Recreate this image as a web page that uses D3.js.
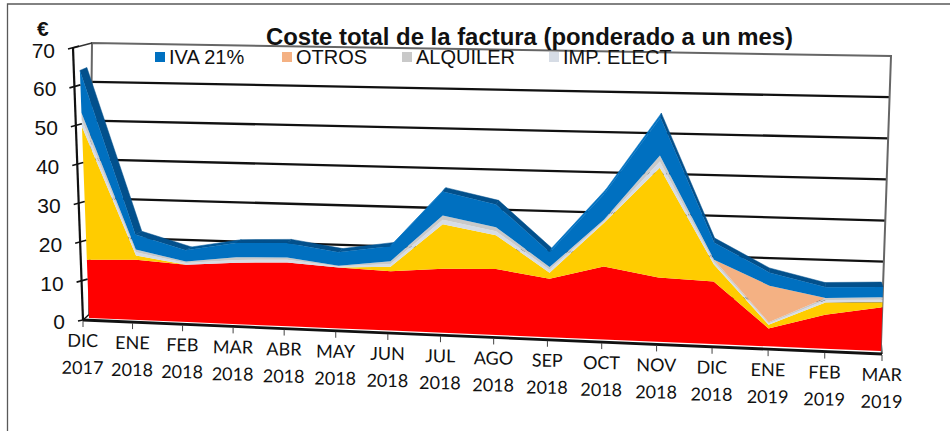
<!DOCTYPE html>
<html>
<head>
<meta charset="utf-8">
<script src="https://cdn.jsdelivr.net/npm/d3@7/dist/d3.min.js"></script>
<style>
  html, body { margin: 0; padding: 0; background: #fff; }
  svg { display: block; }
  .num { font-family: "Liberation Sans", Arial, sans-serif; fill: #111; }
  .cat { font-family: Lato, sans-serif; font-size: 18px; fill: #111; }
</style>
</head>
<body>
<svg id="chart" width="950" height="431"></svg>
<script>
const months = ['DIC','ENE','FEB','MAR','ABR','MAY','JUN','JUL','AGO','SEP','OCT','NOV','DIC','ENE','FEB','MAR'];
const years = ['2017','2018','2018','2018','2018','2018','2018','2018','2018','2018','2018','2018','2018','2019','2019','2019'];
const valueTicks = [0,10,20,30,40,50,60,70];

const energia  = [15.0,15.5,14.7,15.7,16.2,15.4,15.0,16.1,16.5,14.6,18.1,15.9,15.4,4.4,8.3,10.7];
const potencia = [34.3,1.1,0,0,0,0,1.1,11.2,8.5,1.5,10.9,27.2,4.2,0.9,3.0,1.2];
const impElect = [1.8,0.8,0.4,0.7,0.7,0.3,0.7,1.1,1.0,0.7,0.4,1.5,0.6,0.3,0.6,0.6];
const alquiler = [1.8,0.7,0.4,0.7,0.6,0.2,0.7,1.1,1.0,0.7,0.4,1.5,0.6,0.3,0.5,0.6];
const otros    = [0,0,0,0,0,0,0,0,0,0,0,0,0,9.0,0,0];
const iva      = [10.9,3.9,2.9,3.6,3.7,3.4,3.8,6.0,5.7,3.7,6.4,9.4,4.2,3.2,2.6,2.5];

const keys = ['energia','potencia','impElect','alquiler','otros','iva'];
const colors = {energia:'#ff0000', potencia:'#ffcc00', impElect:'#d6dce5', alquiler:'#c9c9c9', otros:'#f4b183', iva:'#0070c0'};
const legendItems = [
  {label:'IVA 21%', key:'iva', x:155},
  {label:'OTROS', key:'otros', x:282},
  {label:'ALQUILER', key:'alquiler', x:402},
  {label:'IMP. ELECT', key:'impElect', x:549}
];

const rows = months.map((m, i) => ({energia:energia[i], potencia:potencia[i], impElect:impElect[i], alquiler:alquiler[i], otros:otros[i], iva:iva[i]}));
const stacked = d3.stack().keys(keys)(rows);

const svg = d3.select('#chart');

// months get wider towards the right (perspective), so index -> fraction is projective
const perspective = 1.0807;
const frac = i => { const t = i / (months.length - 1); return t / (t + perspective * (1 - t)); };

// a plane of the 3D box: left and right edge each with a value scale for x and y
function plane(left, right){
  const lx = d3.scaleLinear([0,70], left.x), ly = d3.scaleLinear([0,70], left.y);
  const rx = d3.scaleLinear([0,70], right.x), ry = d3.scaleLinear([0,70], right.y);
  return (i, v) => {
    const f = frac(i);
    return [lx(v) + (rx(v) - lx(v)) * f, ly(v) + (ry(v) - ly(v)) * f];
  };
}
const axisPlane = plane({x:[83,73], y:[320,48]}, {x:[882,882], y:[354,70]});
const wall = plane({x:[89,92], y:[314.5,43]}, {x:[881,891], y:[344,56]});
const faceFront = plane({x:[89,79], y:[318,46.4]}, {x:[881,890], y:[351,64]});
const faceBack = plane({x:[96,86], y:[315,43.4]}, {x:[879.5,888.5], y:[346,59]});

const line = d3.line();

// frame of the picture
svg.append('path').attr('d', 'M7.5,431V4H950').attr('fill','none').attr('stroke','#595959').attr('stroke-width',1.3);

// back wall
const last = months.length - 1;
const grid = svg.append('g');
grid.selectAll('line').data(valueTicks.filter(v => v > 0 && v < 70)).join('line')
  .attr('x1', v => wall(0,v)[0]).attr('y1', v => wall(0,v)[1])
  .attr('x2', v => wall(last,v)[0]).attr('y2', v => wall(last,v)[1])
  .attr('stroke','#111').attr('stroke-width',2.3);
svg.append('path').attr('d', line([wall(0,0), wall(0,70), wall(last,70), wall(last,0), axisPlane(last,0)]))
  .attr('fill','none').attr('stroke','#666').attr('stroke-width',2);
svg.append('path').attr('d', line([axisPlane(0,70), wall(0,70)])).attr('fill','none').attr('stroke','#333').attr('stroke-width',1.5);
svg.append('path').attr('d', line([axisPlane(0,0), wall(0,0)])).attr('fill','none').attr('stroke','#111').attr('stroke-width',1.5);

// top facets of the IVA layer, rising ones catch the light
const topLayer = stacked[stacked.length - 1];
const shade = d3.scaleLinear([-1,1,6],['#02508c','#02508c','#0070c0']).clamp(true);
svg.append('g').selectAll('path').data(d3.range(last)).join('path')
  .attr('d', i => line([faceFront(i,topLayer[i][1]), faceFront(i+1,topLayer[i+1][1]), faceBack(i+1,topLayer[i+1][1]), faceBack(i,topLayer[i][1])]) + 'Z')
  .attr('fill', i => shade(topLayer[i+1][1] - topLayer[i][1]))
  .attr('stroke', i => shade(topLayer[i+1][1] - topLayer[i][1])).attr('stroke-width',0.5);

// front faces
svg.append('g').selectAll('path').data(stacked).join('path')
  .attr('d', s => {
    const upper = s.map((d, i) => faceFront(i, d[1]));
    const lower = s.map((d, i) => faceFront(i, d[0])).reverse();
    return line(upper.concat(lower)) + 'Z';
  })
  .attr('fill', s => colors[s.key]);

// axes
svg.append('path').attr('d', line([axisPlane(0,70), axisPlane(0,0)])).attr('fill','none').attr('stroke','#111').attr('stroke-width',2.2);
svg.append('path').attr('d', line([axisPlane(0,0), axisPlane(last,0)])).attr('fill','none').attr('stroke','#111').attr('stroke-width',2.8);

const vTicks = svg.append('g').selectAll('g').data(valueTicks).join('g')
  .attr('transform', v => `translate(${axisPlane(0,v)})`);
vTicks.append('line').attr('x1',-5).attr('y1',1).attr('x2',v => v > 0 ? 6 : 0).attr('y2',v => v > 0 ? -2 : 0)
  .attr('stroke','#111').attr('stroke-width',1.6);
vTicks.append('text').attr('class','num').attr('font-size',21)
  .attr('x',-18).attr('y',v => v > 0 ? 9.5 : 8.5).attr('text-anchor','end').text(v => v);

const xTicks = svg.append('g').selectAll('g').data(months).join('g')
  .attr('transform', (m, i) => `translate(${axisPlane(i,0)})`);
xTicks.append('line').attr('y1',1).attr('y2',7).attr('stroke','#444').attr('stroke-width',1);
const xLabels = xTicks.append('g').attr('transform','rotate(0.6)');
xLabels.append('text').attr('class','cat').attr('text-anchor','middle').attr('y',27).text(m => m);
xLabels.append('text').attr('class','cat').attr('text-anchor','middle').attr('y',54).text((m, i) => years[i]);

// legend, title
const legend = svg.append('g').selectAll('g').data(legendItems).join('g')
  .attr('transform', d => `translate(${d.x},52)`);
legend.append('rect').attr('width',10).attr('height',10).attr('fill', d => colors[d.key]);
legend.append('text').attr('class','num').attr('font-size',20).attr('x',14).attr('y',12).text(d => d.label);

svg.append('text').attr('class','num').attr('font-size',23.9).attr('font-weight','bold')
  .attr('x',266).attr('y',44.5).text('Coste total de la factura (ponderado a un mes)');
svg.append('text').attr('class','num').attr('font-size',21).attr('font-weight','bold')
  .attr('x',37).attr('y',36).text('€');
</script>
</body>
</html>
